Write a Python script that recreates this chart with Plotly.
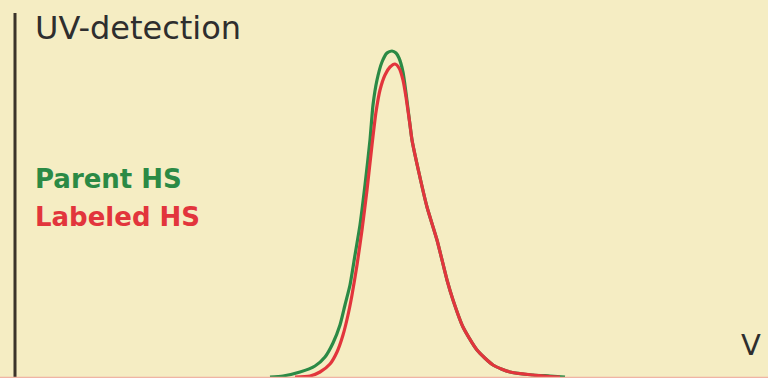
import plotly.graph_objects as go

# Elution profile (x: elution volume, arbitrary units; y: UV signal, arbitrary units)
parent_x = [270, 283, 300, 315, 325, 333, 340, 345, 350, 355, 360, 365, 370, 373, 377, 382, 387, 392, 396, 399,
            403, 406, 410, 412, 419, 427, 437, 447, 453, 463, 477, 493, 510, 533, 550, 565]
parent_y = [0, 1, 5, 11, 20, 34, 52, 72, 92, 122, 152, 192, 237, 272, 297, 315, 324, 326, 324, 319,
            305, 284, 252, 237, 204, 170, 137, 97, 77, 50, 27, 12, 5, 2, 1, 0]

labeled_x = [295, 310, 320, 330, 337, 343, 348, 352, 357, 362, 367, 372, 376, 380, 385, 390, 395, 399, 403, 406,
             410, 412, 419, 427, 437, 447, 453, 463, 477, 493, 510, 533, 550, 560]
labeled_y = [0, 1, 5, 13, 25, 42, 62, 82, 112, 147, 187, 232, 265, 287, 302, 310, 313, 309, 297, 280,
             252, 237, 204, 170, 137, 97, 77, 50, 27, 12, 5, 2, 0.5, 0]

series_names = ["Parent HS", "Labeled HS"]
series_colors = ["#2b8a45", "#e2353c"]

BG = "#f5edc3"

fig = go.Figure()
fig.add_trace(go.Scatter(x=parent_x, y=parent_y, mode="lines", name=series_names[0],
                         line=dict(color=series_colors[0], width=3.2, shape="spline", smoothing=0.6)))
fig.add_trace(go.Scatter(x=labeled_x, y=labeled_y, mode="lines", name=series_names[1],
                         line=dict(color=series_colors[1], width=3.2, shape="spline", smoothing=0.6)))

fig.update_layout(
    width=768, height=378,
    margin=dict(l=0, r=0, t=0, b=0),
    paper_bgcolor=BG, plot_bgcolor=BG,
    showlegend=False,
    xaxis=dict(range=[0, 768], visible=False, fixedrange=True),
    yaxis=dict(range=[-1, 377], visible=False, fixedrange=True),
)

# axes lines
fig.add_shape(type="line", xref="x", yref="y", x0=15, x1=15, y0=-1, y1=364,
              line=dict(color="#3b342a", width=3))
fig.add_shape(type="line", xref="paper", yref="y", x0=0, x1=1, y0=-0.5, y1=-0.5,
              line=dict(color="#f0b4a4", width=1.5))

fig.add_annotation(x=33, y=349, xref="x", yref="y", text="UV-detection", showarrow=False,
                   xanchor="left", yanchor="middle",
                   font=dict(family="DejaVu Sans", size=32, color="#2e2e2e"))
fig.add_annotation(x=33, y=198, xref="x", yref="y", text="<b>Parent HS</b>", showarrow=False,
                   xanchor="left", yanchor="middle",
                   font=dict(family="DejaVu Sans", size=26, color=series_colors[0]))
fig.add_annotation(x=33, y=160, xref="x", yref="y", text="<b>Labeled HS</b>", showarrow=False,
                   xanchor="left", yanchor="middle",
                   font=dict(family="DejaVu Sans", size=26, color=series_colors[1]))
fig.add_annotation(x=739, y=32, xref="x", yref="y", text="V", showarrow=False,
                   xanchor="left", yanchor="middle",
                   font=dict(family="DejaVu Sans", size=29, color="#2e2e2e"))

fig.write_html("out.html")
